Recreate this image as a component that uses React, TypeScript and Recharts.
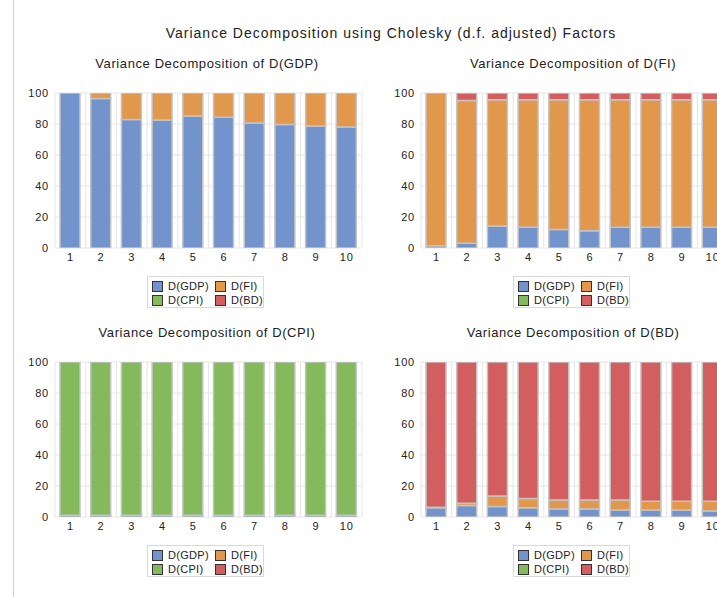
import { BarChart, Bar, XAxis, YAxis, CartesianGrid } from 'recharts'

const PERIODS = ['1', '2', '3', '4', '5', '6', '7', '8', '9', '10']
const Y_TICKS = [0, 20, 40, 60, 80, 100]

const SERIES = ['D(GDP)', 'D(FI)', 'D(CPI)', 'D(BD)']
const COLORS = ['#7293CB', '#E1974C', '#84BA5B', '#D35E60']

// Variance decomposition of D(GDP)
const GDP_GDP = [100, 96.4, 82.9, 82.6, 85.1, 84.4, 80.6, 79.6, 78.7, 78.0]
const GDP_FI = [0, 3.6, 17.1, 17.4, 14.9, 15.6, 19.4, 20.4, 21.3, 22.0]
const GDP_CPI = [0, 0, 0, 0, 0, 0, 0, 0, 0, 0]
const GDP_BD = [0, 0, 0, 0, 0, 0, 0, 0, 0, 0]

// Variance decomposition of D(FI)
const FI_GDP = [1.5, 3.0, 14.2, 13.4, 12.0, 11.1, 13.4, 13.4, 13.4, 13.4]
const FI_FI = [98.5, 92.1, 81.5, 82.3, 83.7, 84.6, 82.3, 82.3, 82.3, 82.3]
const FI_CPI = [0, 0, 0, 0, 0, 0, 0, 0, 0, 0]
const FI_BD = [0, 4.9, 4.3, 4.3, 4.3, 4.3, 4.3, 4.3, 4.3, 4.3]

// Variance decomposition of D(CPI)
const CPI_GDP = [1.2, 1.2, 1.2, 1.2, 1.2, 1.2, 1.2, 1.2, 1.2, 1.2]
const CPI_FI = [0, 0, 0, 0, 0, 0, 0, 0, 0, 0]
const CPI_CPI = [98.8, 98.8, 98.8, 98.8, 98.8, 98.8, 98.8, 98.8, 98.8, 98.8]
const CPI_BD = [0, 0, 0, 0, 0, 0, 0, 0, 0, 0]

// Variance decomposition of D(BD)
const BD_GDP = [6.0, 7.5, 6.7, 6.0, 5.2, 5.2, 4.5, 4.5, 4.5, 3.9]
const BD_FI = [0.3, 1.3, 6.8, 6.0, 5.8, 5.8, 6.5, 5.6, 5.6, 6.2]
const BD_CPI = [0, 0, 0, 0, 0, 0, 0, 0, 0, 0]
const BD_BD = [93.7, 91.2, 86.5, 88.0, 89.0, 89.0, 89.0, 89.9, 89.9, 89.9]

const FONT = '"Liberation Sans", Arial, sans-serif'
const TICK_STYLE = { fill: '#222', fontSize: 11, fontFamily: FONT, letterSpacing: 0.8 }

const rows = (a: number[], b: number[], c: number[], d: number[]) =>
    PERIODS.map((p, i) => ({ period: p, s0: a[i], s1: b[i], s2: c[i], s3: d[i] }))

const PANELS = [
    { title: 'Variance Decomposition of D(GDP)', data: rows(GDP_GDP, GDP_FI, GDP_CPI, GDP_BD), left: 0, top: 0 },
    { title: 'Variance Decomposition of D(FI)', data: rows(FI_GDP, FI_FI, FI_CPI, FI_BD), left: 366, top: 0 },
    { title: 'Variance Decomposition of D(CPI)', data: rows(CPI_GDP, CPI_FI, CPI_CPI, CPI_BD), left: 0, top: 269 },
    { title: 'Variance Decomposition of D(BD)', data: rows(BD_GDP, BD_FI, BD_CPI, BD_BD), left: 366, top: 269 },
]

function LegendBox() {
    return (
        <div
            style={{
                position: 'absolute',
                left: 147,
                top: 276,
                width: 115,
                height: 30,
                border: '1px solid #d9d9d9',
                background: '#fff',
                fontFamily: FONT,
                fontSize: 11,
                letterSpacing: 0.3,
                color: '#222',
            }}
        >
            {SERIES.map((s, i) => {
                const col = i % 2
                const row = Math.floor(i / 2)
                return (
                    <div
                        key={s}
                        style={{
                            position: 'absolute',
                            left: col === 0 ? 4 : 67,
                            top: 3 + row * 14,
                            display: 'flex',
                            alignItems: 'center',
                            height: 12,
                        }}
                    >
                        <span
                            style={{
                                display: 'inline-block',
                                width: 9,
                                height: 9,
                                background: COLORS[i],
                                border: '1px solid #333',
                                marginRight: 5,
                            }}
                        />
                        <span>{s}</span>
                    </div>
                )
            })}
        </div>
    )
}

function Panel({ title, data, left, top }: { title: string; data: any[]; left: number; top: number }) {
    return (
        <div style={{ position: 'absolute', left, top, width: 370, height: 320 }}>
            <div
                style={{
                    position: 'absolute',
                    left: 0,
                    top: 56,
                    width: 414,
                    textAlign: 'center',
                    fontFamily: FONT,
                    fontSize: 13,
                    letterSpacing: 0.6,
                    color: '#222',
                }}
            >
                {title}
            </div>
            <div style={{ position: 'absolute', left: 0, top: 80 }}>
                <BarChart
                    width={370}
                    height={190}
                    data={data}
                    margin={{ top: 13, right: 8, bottom: 0, left: 10 }}
                    barSize={20}
                >
                    <CartesianGrid
                        stroke="#e6e6e6"
                        verticalCoordinatesGenerator={({ offset }: any) =>
                            PERIODS.map((_, i) => offset.left + (i * offset.width) / PERIODS.length).concat(
                                offset.left + offset.width,
                            )
                        }
                    />
                    <XAxis
                        dataKey="period"
                        axisLine={false}
                        tickLine={false}
                        tickSize={0}
                        tickMargin={5}
                        height={22}
                        tick={TICK_STYLE}
                    />
                    <YAxis
                        domain={[0, 100]}
                        ticks={Y_TICKS}
                        allowDataOverflow
                        axisLine={false}
                        tickLine={false}
                        tickSize={0}
                        tickMargin={6}
                        width={45}
                        tick={TICK_STYLE}
                    />
                    {SERIES.map((s, i) => (
                        <Bar
                            key={s}
                            dataKey={`s${i}`}
                            name={s}
                            stackId="a"
                            fill={COLORS[i]}
                            stroke="#c4c4c4"
                            strokeWidth={1.5}
                            isAnimationActive={false}
                        />
                    ))}
                </BarChart>
            </div>
            <LegendBox />
        </div>
    )
}

export default function App() {
    return (
        <div
            style={{
                position: 'fixed',
                left: 0,
                top: 0,
                width: 717,
                height: 597,
                overflow: 'hidden',
                background: '#fff',
            }}
        >
            <div style={{ position: 'absolute', left: 13, top: 0, width: 1, height: 597, background: '#cfcfcf' }} />
            <div
                style={{
                    position: 'absolute',
                    left: 0,
                    top: 25,
                    width: 782,
                    textAlign: 'center',
                    fontFamily: FONT,
                    fontSize: 14,
                    letterSpacing: 1,
                    color: '#222',
                }}
            >
                Variance Decomposition using Cholesky (d.f. adjusted) Factors
            </div>
            {PANELS.map((p) => (
                <Panel key={p.title} {...p} />
            ))}
        </div>
    )
}
